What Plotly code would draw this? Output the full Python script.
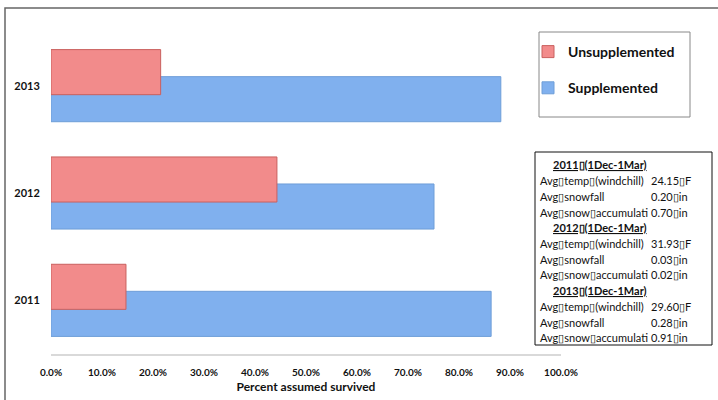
import plotly.graph_objects as go

years = ["2011", "2012", "2013"]
unsupplemented = [0.147, 0.443, 0.215]
supplemented = [0.863, 0.751, 0.882]
x_ticks = [0, 0.1, 0.2, 0.3, 0.4, 0.5, 0.6, 0.7, 0.8, 0.9, 1.0]

table_rows = [
    ("2011\u25af(1Dec-1Mar)", None),
    ("Avg\u25aftemp\u25af(windchill)", "24.15\u25afF"),
    ("Avg\u25afsnowfall", "0.20\u25afin"),
    ("Avg\u25afsnow\u25afaccumulati", "0.70\u25afin"),
    ("2012\u25af(1Dec-1Mar)", None),
    ("Avg\u25aftemp\u25af(windchill)", "31.93\u25afF"),
    ("Avg\u25afsnowfall", "0.03\u25afin"),
    ("Avg\u25afsnow\u25afaccumulati", "0.02\u25afin"),
    ("2013\u25af(1Dec-1Mar)", None),
    ("Avg\u25aftemp\u25af(windchill)", "29.60\u25afF"),
    ("Avg\u25afsnowfall", "0.28\u25afin"),
    ("Avg\u25afsnow\u25afaccumulati", "0.91\u25afin"),
]

W, H = 718, 400
ML, MR, MT, MB = 51, 157, 32, 46
PW, PH = W - ML - MR, H - MT - MB


def px(xp):
    return (xp - ML) / PW


def py(yp):
    return (H - MB - yp) / PH


FONT = "Lato, 'Open Sans', sans-serif"

fig = go.Figure()
fig.add_trace(go.Bar(
    y=years, x=supplemented, orientation="h", name="Supplemented",
    width=0.42, offset=-0.336,
    marker=dict(color="#80B0EE", line=dict(color="#6E9ED8", width=1)),
    legendgroup="b", legendrank=2,
))
fig.add_trace(go.Bar(
    y=years, x=unsupplemented, orientation="h", name="Unsupplemented",
    width=0.42, offset=-0.084,
    marker=dict(color="#F28B8B", line=dict(color="#C9605E", width=1)),
    legendgroup="a", legendrank=1,
))

fig.update_layout(
    width=W, height=H,
    margin=dict(l=ML, r=MR, t=MT, b=MB, autoexpand=False),
    paper_bgcolor="white", plot_bgcolor="white",
    barmode="overlay",
    font=dict(family=FONT, color="#111111"),
    showlegend=True,
    legend=dict(
        x=px(528), y=py(36), xanchor="left", yanchor="top",
        borderwidth=0, bgcolor="rgba(0,0,0,0)",
        font=dict(size=14, family=FONT, weight="bold"),
        tracegroupgap=15, traceorder="grouped",
    ),
    xaxis=dict(
        range=[0, 1.0], tickvals=x_ticks, tickformat=".1%",
        showgrid=False, zeroline=False, automargin=False,
        showline=True, linecolor="#D9D9D9", linewidth=2,
        ticks="outside", ticklen=8, tickcolor="rgba(0,0,0,0)",
        tickfont=dict(size=10, weight="bold"),
        title=dict(text="Percent assumed survived", font=dict(size=12, weight="bold"), standoff=6),
    ),
    yaxis=dict(
        type="category", categoryorder="array", categoryarray=years,
        range=[-0.5, 2.5], showgrid=False, zeroline=False, showline=False,
        automargin=False,
        ticks="outside", ticklen=8, tickcolor="rgba(0,0,0,0)",
        tickfont=dict(size=11, weight="bold"),
    ),
)

# Outer chart border
fig.add_shape(type="rect", xref="paper", yref="paper",
              x0=px(5), x1=px(722), y0=py(404), y1=py(8),
              line=dict(color="#666666", width=1.5), layer="below")

# Legend box
fig.add_shape(type="rect", xref="paper", yref="paper",
              x0=px(539), x1=px(690), y0=py(117), y1=py(32),
              line=dict(color="#888888", width=1), fillcolor="white", layer="below")

# Table box
fig.add_shape(type="rect", xref="paper", yref="paper",
              x0=px(535), x1=px(712), y0=py(345), y1=py(152),
              line=dict(color="#111111", width=1), fillcolor="white")

row_top = 165
row_h = 15.7
for i, (label, val) in enumerate(table_rows):
    yc = row_top + i * row_h
    if val is None:
        fig.add_annotation(xref="paper", yref="paper", x=px(551), y=py(yc),
                           xanchor="left", yanchor="middle", showarrow=False,
                           text="<b><u>" + label + "</u></b>",
                           font=dict(size=11, family=FONT, color="#111111"))
    else:
        fig.add_annotation(xref="paper", yref="paper", x=px(538), y=py(yc),
                           xanchor="left", yanchor="middle", showarrow=False,
                           text=label, font=dict(size=11, family=FONT, color="#111111"))
        fig.add_annotation(xref="paper", yref="paper", x=px(649), y=py(yc),
                           xanchor="left", yanchor="middle", showarrow=False,
                           text=val, font=dict(size=11, family=FONT, color="#111111"))

# Mild Winter label on 2012 unsupplemented bar
fig.add_annotation(xref="x", yref="y", x=unsupplemented[1] * 0.61, y="2012",
                   yshift=5, showarrow=False, text="<b>Mild Winter *</b>",
                   font=dict(size=12, family=FONT, color="#111111"))

fig.write_html("out.html", config={"displayModeBar": False},
               post_script="document.body.style.margin='0';")
